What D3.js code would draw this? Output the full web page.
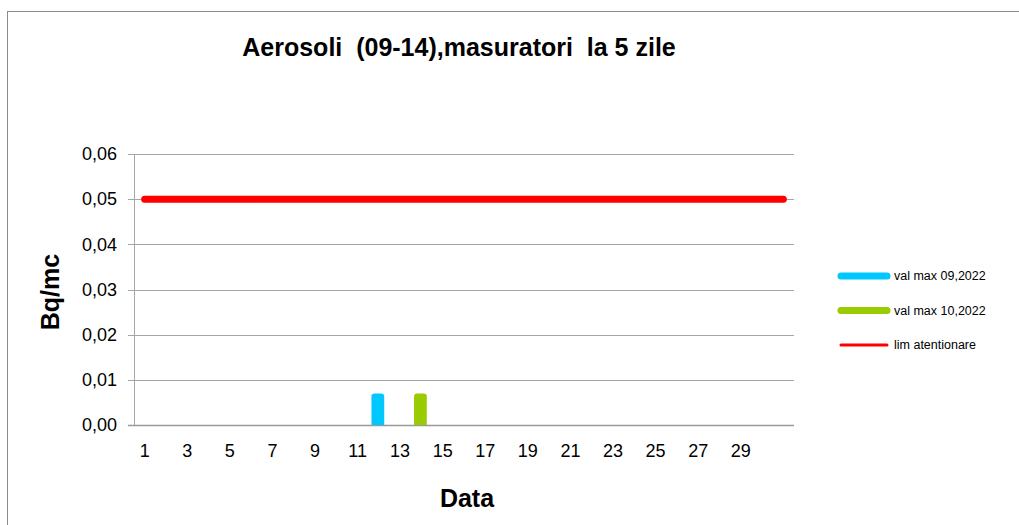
<!DOCTYPE html>
<html>
<head>
<meta charset="utf-8">
<script src="https://d3js.org/d3.v7.min.js"></script>
<style>
  body { margin: 0; background: #fff; }
  text { font-family: "Liberation Sans", Arial, sans-serif; fill: #000; }
</style>
</head>
<body>
<div id="chart"></div>
<script>
// categories: zilele lunii
var days = d3.range(1, 32).map(String);
var dayLabels = ["1", "3", "5", "7", "9", "11", "13", "15", "17", "19", "21", "23", "25", "27", "29"];
var yTicks = [0, 0.01, 0.02, 0.03, 0.04, 0.05, 0.06];

// series values (null = no measurement)
var valSep = days.map(function (d) { return d === "12" ? 0.007 : null; });
var valOct = days.map(function (d) { return d === "14" ? 0.007 : null; });
var limAtt = days.map(function () { return 0.05; });

var seriesNames = ["val max 09,2022", "val max 10,2022", "lim atentionare"];
var seriesColors = ["#00c8ff", "#99cc00", "#ff0000"];

var W = 1019, H = 525;
var plot = { left: 134, right: 794, top: 154, bottom: 425 };

var svg = d3.select("#chart").append("svg")
    .attr("width", W)
    .attr("height", H);

// outer frame
svg.append("rect")
    .attr("x", 7.5).attr("y", 11.5)
    .attr("width", W).attr("height", H)
    .attr("fill", "none")
    .attr("stroke", "#8c8c8c")
    .attr("stroke-width", 1);

var x = d3.scaleBand().domain(days).range([plot.left, plot.right]);
var y = d3.scaleLinear().domain([0, 0.06]).range([plot.bottom, plot.top]);
var fmt = function (v) { return d3.format(".2f")(v).replace(".", ","); };

// gridlines
svg.append("g").selectAll("line")
    .data(yTicks)
    .enter().append("line")
    .attr("x1", plot.left - 6).attr("x2", plot.right)
    .attr("y1", function (d) { return Math.round(y(d)) + 0.5; })
    .attr("y2", function (d) { return Math.round(y(d)) + 0.5; })
    .attr("stroke", function (d) { return d === 0 ? "#999" : "#a6a6a6"; })
    .attr("stroke-width", function (d) { return d === 0 ? 1.5 : 1; });

// y axis line
svg.append("line")
    .attr("x1", plot.left + 0.5).attr("x2", plot.left + 0.5)
    .attr("y1", plot.top).attr("y2", plot.bottom)
    .attr("stroke", "#a6a6a6");

// y tick labels
svg.append("g").selectAll("text")
    .data(yTicks)
    .enter().append("text")
    .attr("x", 117)
    .attr("y", function (d) { return y(d); })
    .attr("dy", "0.35em")
    .attr("text-anchor", "end")
    .style("font-size", "18px")
    .text(fmt);

// x tick labels
svg.append("g").selectAll("text")
    .data(dayLabels)
    .enter().append("text")
    .attr("x", function (d) { return x(d) + x.bandwidth() / 2; })
    .attr("y", 451)
    .attr("dy", "0.35em")
    .attr("text-anchor", "middle")
    .style("font-size", "18px")
    .text(function (d) { return d; });

// measurement bars (rounded top)
var barW = x.bandwidth() * 0.6, rr = 3;
function barPath(day, v) {
    var x0 = x(day) + (x.bandwidth() - barW) / 2 - 1, x1 = x0 + barW;
    var y0 = y(0), y1 = y(v);
    return "M" + x0 + "," + y0 + "V" + (y1 + rr) +
        "Q" + x0 + "," + y1 + " " + (x0 + rr) + "," + y1 +
        "H" + (x1 - rr) + "Q" + x1 + "," + y1 + " " + x1 + "," + (y1 + rr) +
        "V" + y0 + "Z";
}
[valSep, valOct].forEach(function (vals, i) {
    svg.append("g").selectAll("path")
        .data(days.filter(function (d, j) { return vals[j] !== null; }))
        .enter().append("path")
        .attr("d", function (d) { return barPath(d, vals[days.indexOf(d)]); })
        .attr("fill", seriesColors[i]);
});

// limit line
var line = d3.line()
    .x(function (d, i) { return x(days[i]) + x.bandwidth() / 2; })
    .y(function (d) { return y(d); });
svg.append("path")
    .attr("d", line(limAtt))
    .attr("fill", "none")
    .attr("stroke", seriesColors[2])
    .attr("stroke-width", 7)
    .attr("stroke-linecap", "round");

// title
svg.append("text")
    .attr("x", 459).attr("y", 56)
    .attr("text-anchor", "middle")
    .style("font-size", "25px")
    .style("font-weight", "bold")
    .style("white-space", "pre")
    .text("Aerosoli  (09-14),masuratori  la 5 zile");

// axis titles
svg.append("text")
    .attr("transform", "translate(59,292) rotate(-90)")
    .attr("text-anchor", "middle")
    .style("font-size", "25px")
    .style("font-weight", "bold")
    .text("Bq/mc");

svg.append("text")
    .attr("x", 467).attr("y", 507)
    .attr("text-anchor", "middle")
    .style("font-size", "25px")
    .style("font-weight", "bold")
    .text("Data");

// legend
var legend = svg.append("g").selectAll("g")
    .data(seriesNames)
    .enter().append("g")
    .attr("transform", function (d, i) { return "translate(841," + (276 + i * 34.5) + ")"; });
legend.append("line")
    .attr("x1", 0).attr("x2", 46)
    .attr("stroke", function (d, i) { return seriesColors[i]; })
    .attr("stroke-width", function (d, i) { return i < 2 ? 7 : 3; })
    .attr("stroke-linecap", "round");
legend.append("text")
    .attr("x", 53)
    .attr("dy", "0.35em")
    .style("font-size", "12.5px")
    .text(function (d) { return d; });
</script>
</body>
</html>
